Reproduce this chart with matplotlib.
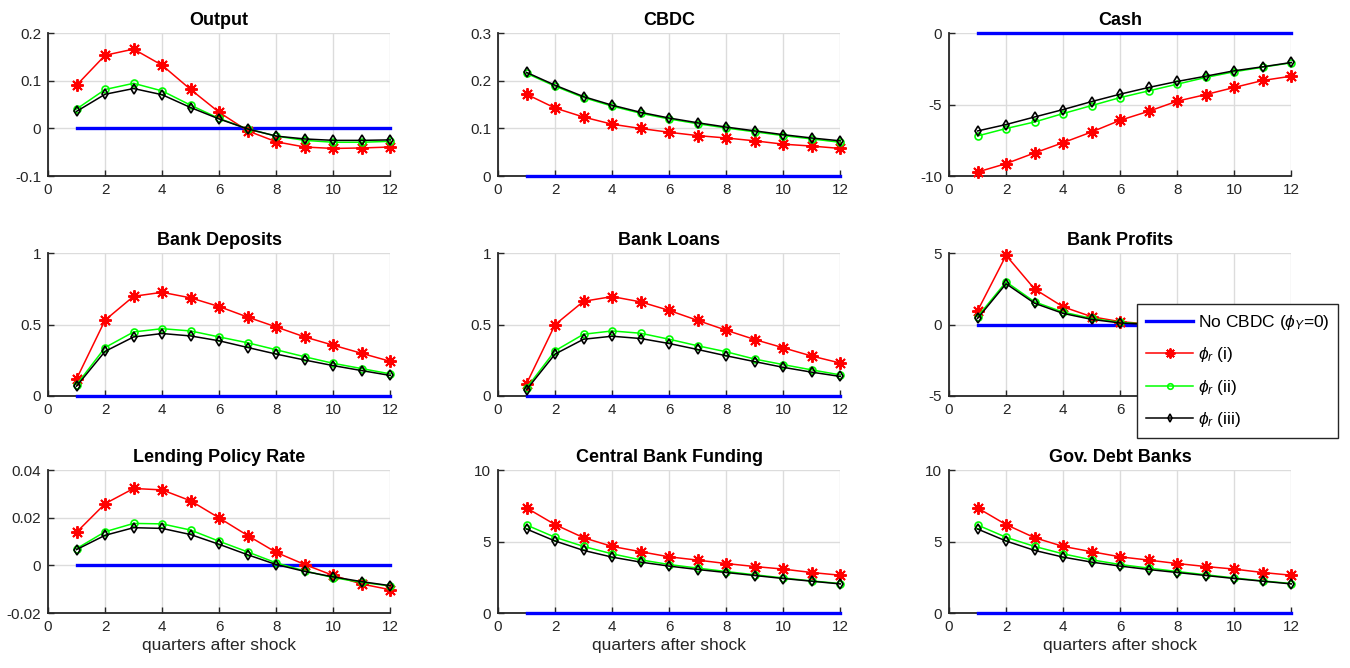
import numpy as np
import matplotlib
matplotlib.use("Agg")
import matplotlib.pyplot as plt
from matplotlib.ticker import FormatStrFormatter

plt.rcParams['font.family'] = ['Liberation Sans', 'DejaVu Sans']
plt.rcParams['axes.unicode_minus'] = False
plt.rcParams['mathtext.fontset'] = 'custom'
plt.rcParams['mathtext.it'] = 'Liberation Sans:italic'
plt.rcParams['mathtext.rm'] = 'Liberation Sans'

quarters = np.arange(1, 13)

# impulse responses: (i) red, (ii) green, (iii) black
output_i = [0.091, 0.154, 0.167, 0.133, 0.082, 0.034, -0.005, -0.028, -0.039, -0.042, -0.041, -0.039]
output_ii = [0.041, 0.082, 0.095, 0.079, 0.049, 0.021, -0.001, -0.016, -0.025, -0.029, -0.029, -0.027]
output_iii = [0.036, 0.072, 0.084, 0.071, 0.044, 0.020, -0.001, -0.016, -0.022, -0.025, -0.025, -0.024]

cbdc_i = [0.172, 0.143, 0.124, 0.109, 0.100, 0.092, 0.085, 0.080, 0.074, 0.067, 0.063, 0.058]
cbdc_ii = [0.216, 0.189, 0.165, 0.147, 0.132, 0.120, 0.110, 0.101, 0.093, 0.085, 0.078, 0.071]
cbdc_iii = [0.218, 0.191, 0.167, 0.149, 0.134, 0.122, 0.112, 0.103, 0.095, 0.087, 0.080, 0.074]

cash_i = [-9.72, -9.13, -8.38, -7.66, -6.91, -6.09, -5.46, -4.75, -4.29, -3.79, -3.30, -3.00]
cash_ii = [-7.19, -6.67, -6.21, -5.62, -5.06, -4.50, -4.03, -3.56, -3.09, -2.69, -2.37, -2.06]
cash_iii = [-6.84, -6.39, -5.86, -5.34, -4.78, -4.26, -3.79, -3.37, -3.00, -2.62, -2.34, -2.04]

deposits_i = [0.120, 0.532, 0.699, 0.727, 0.688, 0.627, 0.553, 0.484, 0.414, 0.356, 0.299, 0.243]
deposits_ii = [0.079, 0.340, 0.449, 0.472, 0.456, 0.414, 0.373, 0.324, 0.275, 0.229, 0.192, 0.155]
deposits_iii = [0.069, 0.313, 0.414, 0.438, 0.421, 0.387, 0.340, 0.294, 0.252, 0.213, 0.178, 0.144]

loans_i = [0.086, 0.500, 0.664, 0.697, 0.660, 0.600, 0.530, 0.461, 0.396, 0.338, 0.280, 0.231]
loans_ii = [0.056, 0.317, 0.433, 0.456, 0.440, 0.398, 0.352, 0.310, 0.259, 0.220, 0.183, 0.148]
loans_iii = [0.044, 0.294, 0.398, 0.419, 0.403, 0.368, 0.326, 0.282, 0.241, 0.201, 0.167, 0.137]

profits_i = [0.97, 4.86, 2.50, 1.25, 0.56, 0.21, 0.05, -0.02, -0.04, -0.05, -0.05, -0.05]
profits_ii = [0.56, 3.00, 1.60, 0.88, 0.44, 0.16, 0.03, -0.02, -0.03, -0.03, -0.03, -0.03]
profits_iii = [0.44, 2.87, 1.50, 0.79, 0.37, 0.12, 0.02, -0.02, -0.03, -0.03, -0.03, -0.03]

rate_i = [0.0140, 0.0260, 0.0324, 0.0318, 0.0272, 0.0200, 0.0126, 0.0055, 0.0004, -0.0042, -0.0078, -0.0102]
rate_ii = [0.0071, 0.0142, 0.0177, 0.0175, 0.0149, 0.0102, 0.0057, 0.0011, -0.0023, -0.0051, -0.0071, -0.0086]
rate_iii = [0.0067, 0.0127, 0.0159, 0.0156, 0.0130, 0.0089, 0.0045, 0.0004, -0.0025, -0.0048, -0.0068, -0.0085]

cbfund_i = [7.37, 6.20, 5.28, 4.67, 4.30, 3.94, 3.71, 3.47, 3.26, 3.08, 2.84, 2.65]
cbfund_ii = [6.17, 5.31, 4.67, 4.15, 3.73, 3.40, 3.15, 2.91, 2.68, 2.46, 2.25, 2.07]
cbfund_iii = [5.89, 5.05, 4.39, 3.92, 3.57, 3.29, 3.05, 2.84, 2.63, 2.42, 2.23, 2.04]

govdebt_i = [7.37, 6.20, 5.28, 4.67, 4.30, 3.94, 3.71, 3.47, 3.26, 3.08, 2.84, 2.65]
govdebt_ii = [6.17, 5.31, 4.67, 4.15, 3.73, 3.40, 3.15, 2.91, 2.68, 2.46, 2.25, 2.07]
govdebt_iii = [5.89, 5.05, 4.39, 3.92, 3.57, 3.29, 3.05, 2.84, 2.63, 2.42, 2.23, 2.04]

no_cbdc = [0.0] * 12

titles = ["Output", "CBDC", "Cash", "Bank Deposits", "Bank Loans", "Bank Profits",
          "Lending Policy Rate", "Central Bank Funding", "Gov. Debt Banks"]
series = [(output_i, output_ii, output_iii), (cbdc_i, cbdc_ii, cbdc_iii),
          (cash_i, cash_ii, cash_iii), (deposits_i, deposits_ii, deposits_iii),
          (loans_i, loans_ii, loans_iii), (profits_i, profits_ii, profits_iii),
          (rate_i, rate_ii, rate_iii), (cbfund_i, cbfund_ii, cbfund_iii),
          (govdebt_i, govdebt_ii, govdebt_iii)]
ylims = [(-0.1, 0.2), (0, 0.3), (-10, 0), (0, 1), (0, 1), (-5, 5),
         (-0.02, 0.04), (0, 10), (0, 10)]
yticks = [[-0.1, 0, 0.1, 0.2], [0, 0.1, 0.2, 0.3], [-10, -5, 0], [0, 0.5, 1], [0, 0.5, 1],
          [-5, 0, 5], [-0.02, 0, 0.02, 0.04], [0, 5, 10], [0, 5, 10]]
xticks = [0, 2, 4, 6, 8, 10, 12]

fig = plt.figure(figsize=(13.5, 6.68), dpi=100)
lefts = [0.0356, 0.3689, 0.703]
bottoms = [0.7365, 0.4072, 0.0823]
w, h = 0.2535, 0.2135
dark = "#262626"
asterisk = (8, 2, 0)

for k in range(9):
    r, c = divmod(k, 3)
    ax = fig.add_axes([lefts[c], bottoms[r], w, h])
    s_i, s_ii, s_iii = series[k]
    l0, = ax.plot(quarters, no_cbdc, color="#0000ff", lw=2.4, label=r"No CBDC ($\phi_Y$=0)",
                  zorder=3, clip_on=False)
    l1, = ax.plot(quarters, s_i, color="red", lw=1.1, marker=asterisk, ms=9, mew=1.4,
                  label=r"$\phi_r$ (i)", zorder=4, clip_on=False)
    l2, = ax.plot(quarters, s_ii, color="#00ff00", lw=1.1, marker="o", ms=5, mfc="none", mew=1.2,
                  label=r"$\phi_r$ (ii)", zorder=5, clip_on=False)
    l3, = ax.plot(quarters, s_iii, color="black", lw=1.1, marker="d", ms=5, mfc="none", mew=1.2,
                  label=r"$\phi_r$ (iii)", zorder=6, clip_on=False)
    ax.set_xlim(0, 12)
    ax.set_ylim(*ylims[k])
    ax.set_xticks(xticks)
    ax.set_yticks(yticks[k])
    ax.yaxis.set_major_formatter(FormatStrFormatter('%g'))
    ax.grid(True, color="#dcdcdc", lw=1.0)
    ax.set_axisbelow(True)
    for sp in ["top", "right"]:
        ax.spines[sp].set_visible(False)
    for sp in ["left", "bottom"]:
        ax.spines[sp].set_color(dark)
        ax.spines[sp].set_linewidth(1.3)
    ax.tick_params(direction="in", length=4, width=1.0, colors=dark, labelsize=11, pad=5)
    ax.set_title(titles[k], fontsize=13, fontweight="bold", pad=6)
    if r == 2:
        ax.set_xlabel("quarters after shock", fontsize=12.5, color=dark, labelpad=3)
    if k == 0:
        handles = [l0, l1, l2, l3]

leg = fig.legend(handles=handles, loc="upper left", bbox_to_anchor=(1137 / 1350, 1 - 304 / 668),
                 fontsize=12.5, handlelength=2.75, handletextpad=0.25, labelspacing=0.78,
                 borderpad=0.5, borderaxespad=0, fancybox=False, framealpha=1, edgecolor=dark,
                 markerscale=0.8)
leg.get_frame().set_linewidth(1.0)
leg.set_zorder(10)

fig.savefig("out.png", dpi=100, facecolor="white")
